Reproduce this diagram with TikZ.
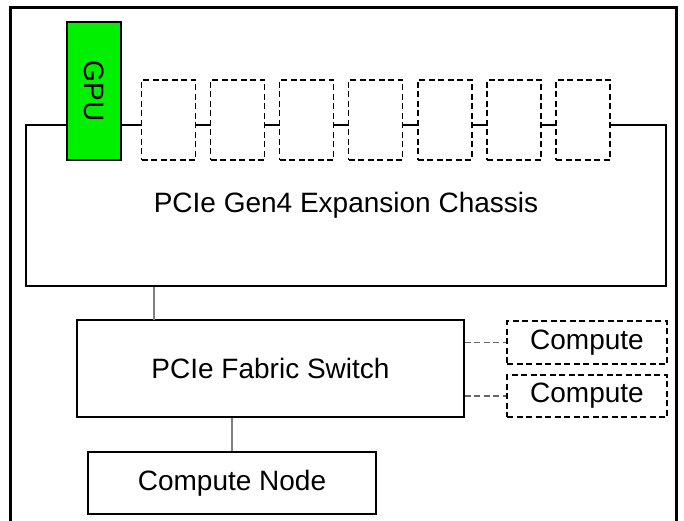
\documentclass[tikz,border=0pt]{standalone}
\usepackage{fontspec}
\setmainfont{Liberation Sans}
\definecolor{gpugreen}{RGB}{0,240,0}
\tikzset{
  box/.style={draw=black, line width=1.3pt, fill=white, inner sep=0pt,
    font=\fontsize{28}{32}\selectfont},
  dashbox/.style={box, dash pattern=on 6pt off 3.5pt},
  slotbox/.style={dashbox, minimum width=54pt, minimum height=80pt},
  link/.style={draw=gray, line width=2pt},
  dashlink/.style={draw=black!60, line width=1.4pt, dash pattern=on 6pt off 3.5pt}
}
\begin{document}
\begin{tikzpicture}[x=1pt, y=-1pt]
  \useasboundingbox (0,0) rectangle (684,521);
  \draw[line width=3pt] (10,521) -- (10,8) -- (676,8) -- (676,521);

  \node[box, minimum width=640pt, minimum height=161pt] (chassis) at (346,205.5) {PCIe Gen4 Expansion Chassis};
  \node[box, fill=gpugreen, minimum width=54pt, minimum height=138pt] (gpu) at (94,91) {\rotatebox{-90}{GPU}};
  \foreach \i in {0,...,6}
    \node[slotbox] (s\i) at ({168.5+69.1*\i},120) {};

  \node[box, minimum width=387pt, minimum height=97pt] (switch) at (270.5,368.5) {PCIe Fabric Switch};
  \node[dashbox, minimum width=160pt, minimum height=43pt] (c1) at (587,342.5) {Compute};
  \node[dashbox, minimum width=160pt, minimum height=42pt] (c2) at (587,396) {Compute};
  \node[box, minimum width=288pt, minimum height=62pt] (cnode) at (232,483) {Compute Node};

  \coordinate (up) at (154,320);
  \draw[link] (up) -- (up |- chassis.south);
  \draw[link] (cnode.north) -- (cnode.north |- switch.south);
  \draw[dashlink] (switch.east |- c1.west) -- (c1.west);
  \draw[dashlink] (switch.east |- c2.west) -- (c2.west);
\end{tikzpicture}
\end{document}
